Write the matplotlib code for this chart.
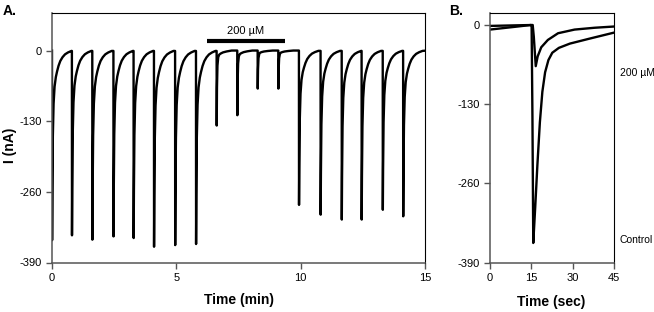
import numpy as np
import matplotlib
matplotlib.use('Agg')
import matplotlib.pyplot as plt
from matplotlib import rcParams

rcParams['font.family'] = ['Liberation Sans Narrow', 'Liberation Sans', 'DejaVu Sans']
rcParams['font.size'] = 8
rcParams['axes.unicode_minus'] = False

##################################################################
# Data
##################################################################
# panel A: repeated pulses, time of each inward current spike (min) and its peak (nA)
spike_t = [0.0, 0.80, 1.62, 2.47, 3.28, 4.10, 4.95, 5.79, 6.62, 7.45, 8.27, 9.10,
           9.93, 10.80, 11.65, 12.45, 13.30, 14.12]
spike_peak = [-349, -340, -348, -342, -345, -361, -358, -356, -138, -119, -70, -70,
              -284, -302, -311, -311, -293, -305]
in_drug = [False]*8 + [True]*4 + [False]*6   # spikes under the 200 uM bar
t_end = 15.0

# recovery after a spike, fraction of peak vs. time after peak (min)
ctrl_dt = [0, 0.01, 0.03, 0.06, 0.10, 0.15, 0.20, 0.26, 0.33, 0.42, 0.52, 0.64, 0.78]
ctrl_fr = [1.0, 0.75, 0.45, 0.28, 0.19, 0.14, 0.11, 0.08, 0.055, 0.035, 0.02, 0.01, 0.002]
drug_dt = [0, 0.01, 0.03, 0.06, 0.10, 0.16, 0.25, 0.40, 0.60]
drug_fr = [1.0, 0.5, 0.2, 0.09, 0.055, 0.04, 0.025, 0.012, 0.0]

drug_bar = [6.23, 9.37]   # application of 200 uM (min)

# panel B: single responses (sec, nA)
ctrl_sec = [0, 5, 10, 14.8, 15.1, 15.4, 15.7, 16.4, 17.2, 18.1, 19.0, 20.0, 21.2,
            22.6, 25, 29, 36, 45]
ctrl_nA = [-8, -5.5, -3, -0.5, -1, -150, -358, -300, -230, -160, -110, -78, -58,
           -46, -38, -31, -23, -13]
drug_sec = [0, 10, 15.5, 15.9, 16.6, 17.3, 18.6, 21, 24.7, 30.7, 38, 45]
drug_nA = [-2, -1, -0.5, -20, -68, -52, -37, -25, -14, -8, -5, -3]

##################################################################
# Build panel A trace from the spikes
##################################################################
tt, yy = [0.0], [0.0]
for i, (t0, pk) in enumerate(zip(spike_t, spike_peak)):
    t_next = spike_t[i+1] if i+1 < len(spike_t) else t_end
    dts, frs = (drug_dt, drug_fr) if in_drug[i] else (ctrl_dt, ctrl_fr)
    tt.append(t0); yy.append(yy[-1])
    for d, f in zip(dts, frs):
        if t0 + d < t_next:
            tt.append(t0 + d + 0.004); yy.append(pk*f)
tt.append(t_end); yy.append(yy[-1]*0.5)

##################################################################
# Plot figure
##################################################################
fig = plt.figure(figsize=(6.54, 3.12), dpi=100)
axA = fig.add_axes([52/654, 49.5/312, 373/654, 250/312])
axB = fig.add_axes([490/654, 49.5/312, 124/654, 250/312])

def style(ax):
    for s in ['top', 'right']:
        ax.spines[s].set_color('black')
        ax.spines[s].set_linewidth(0.8)
    for s in ['bottom', 'left']:
        ax.spines[s].set_color('#555555')
        ax.spines[s].set_linewidth(1.1)
    ax.tick_params(direction='out', length=4, width=1, color='#555555', pad=3.5,
                   labelsize=8)
    ax.set_yticks([-390, -260, -130, 0])

bold = dict(fontsize=10, fontweight='bold', family='Liberation Sans')

axA.plot(tt, yy, color='black', lw=1.7, solid_joinstyle='round')
axA.set_xlim(0, 15)
axA.set_ylim(-390, 70)
axA.set_xticks([0, 5, 10, 15])
style(axA)
axA.plot(drug_bar, [18, 18], color='black', lw=3, solid_capstyle='butt')
axA.text(np.mean(drug_bar), 36, '200 µM', ha='center', va='center', fontsize=8)
axA.set_xlabel('Time (min)', va='center', **bold)
axA.xaxis.set_label_coords(0.5, -0.15)
axA.set_ylabel('I (nA)', va='center', **bold)
axA.yaxis.set_label_coords(-0.113, 0.47)

axB.plot(ctrl_sec, ctrl_nA, color='black', lw=1.7, solid_joinstyle='round')
axB.plot(drug_sec, drug_nA, color='black', lw=1.7, solid_joinstyle='round')
axB.set_xlim(0, 45)
axB.set_ylim(-390, 20)
axB.set_xticks([0, 15, 30, 45])
style(axB)
axB.set_xlabel('Time (sec)', va='center', **bold)
axB.xaxis.set_label_coords(0.49, -0.158)

fig.text(620/654, 1 - 73/312, '200 µM', ha='left', va='center', fontsize=7.5)
fig.text(620/654, 1 - 240/312, 'Control', ha='left', va='center', fontsize=7.5)
fig.text(3/654, 1 - 11/312, 'A.', ha='left', va='center', **bold)
fig.text(449/654, 1 - 11/312, 'B.', ha='left', va='center', **bold)

plt.savefig('out.png', dpi=100)
